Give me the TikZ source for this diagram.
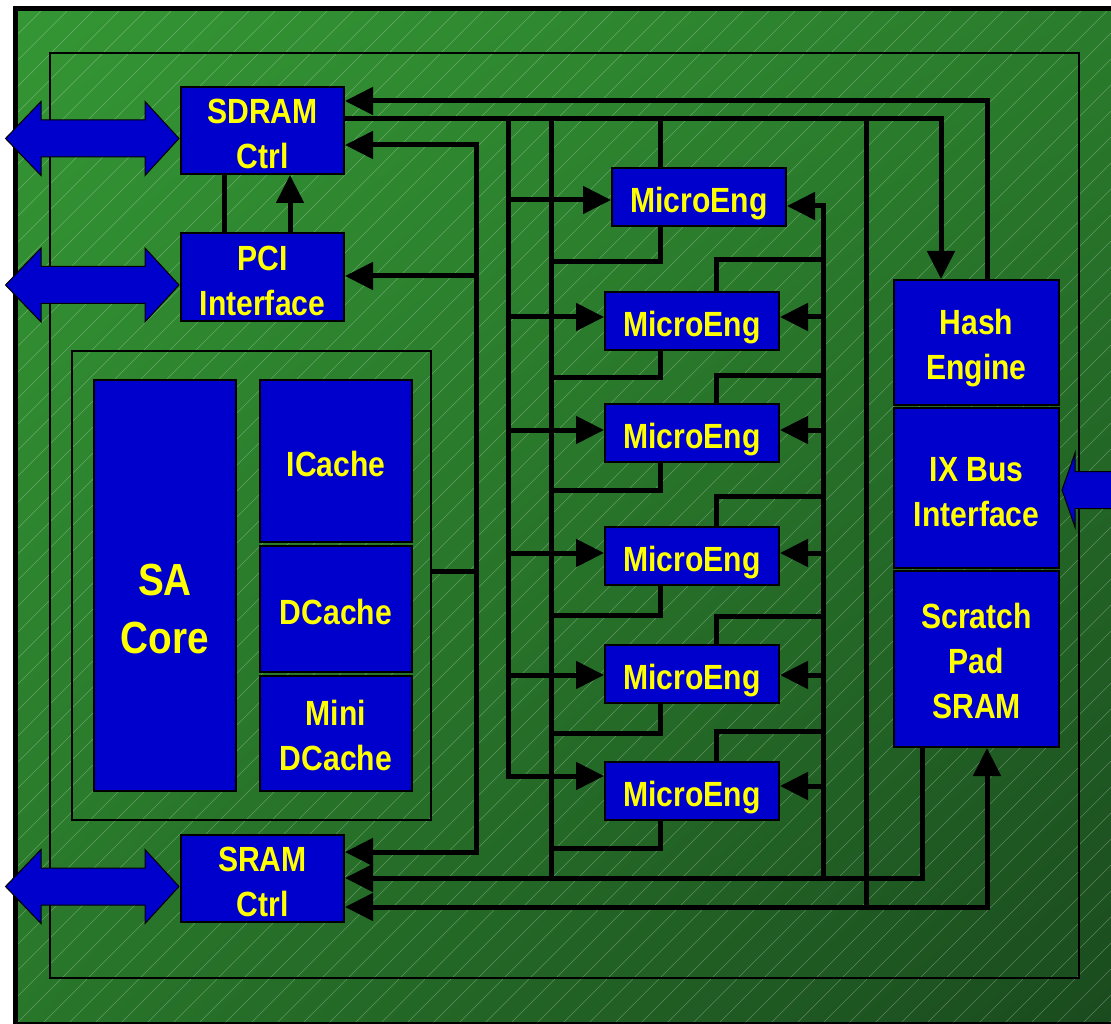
\documentclass[tikz,border=0pt]{standalone}
\usepackage{fontspec}
\setmainfont{Liberation Sans}[FakeStretch=0.86]
\usetikzlibrary{arrows.meta,calc,shadings}
\definecolor{chipblue}{RGB}{0,0,204}
\definecolor{lblyellow}{RGB}{255,255,0}
\definecolor{gUL}{RGB}{52,150,52}
\definecolor{gUR}{RGB}{42,124,44}
\definecolor{gLL}{RGB}{40,118,42}
\definecolor{gLR}{RGB}{26,74,30}
\newcommand\mystrut[1]{\rule{0pt}{#1}}
\begin{document}
\begin{tikzpicture}[x=1pt,y=-1pt,
  blk/.style={draw=black,line width=2pt,fill=chipblue,text=lblyellow,inner sep=0pt,
     font=\fontsize{35}{45}\selectfont\bfseries,align=center},
  onel/.style={blk,text height=31.5pt,text depth=0pt},
  me/.style={onel,minimum width=174pt,minimum height=58pt},
  ctl/.style={blk,minimum width=163pt},
  rcol/.style={blk,minimum width=165pt},
  bigtxt/.style={text=lblyellow,inner sep=0pt,font=\fontsize{45}{58}\selectfont\bfseries,align=center},
  bus/.style={line width=5pt,draw=black},
  arw/.style={-{Triangle[length=28pt,width=27pt]}},
  arwb/.style={{Triangle[length=28pt,width=27pt]}-{Triangle[length=28pt,width=27pt]}},
  ioarrow/.style={fill=chipblue,draw=black,line width=1pt,line join=miter},
  thinframe/.style={draw=black,line width=2pt}
]
\useasboundingbox (0,0) rectangle (1111,1024);
\clip (0,0) rectangle (1111,1024);
\fill[white] (0,0) rectangle (1111,1024);
% background board
\shade[upper left=gUL, upper right=gUR, lower left=gLL, lower right=gLR]
  (15.5,8.5) rectangle (1120,1030);
\begin{scope}
  \clip (18,11) rectangle (1111,1021);
  \foreach \i in {0,...,84} {
    \draw[white,opacity=0.27,line width=0.6pt] (\i*26-1030,1030) -- ++(1120,-1120);
  }
\end{scope}
\draw[line width=5pt] (15.5,8.5) rectangle (1130,1024);
% inner frame
\draw[thinframe] (50,53) rectangle (1079,978);

% blocks
\node[ctl,minimum height=87pt] (sdram) at (262.5,130.5) {\mystrut{32pt}SDRAM\\Ctrl};
\node[ctl,minimum height=88pt] (pci) at (262.5,277) {\mystrut{32pt}PCI\\Interface};
\node[ctl,minimum height=87pt] (sram) at (262.5,878.5) {\mystrut{32pt}SRAM\\Ctrl};

\node[thinframe,minimum width=359pt,minimum height=469pt,inner sep=0pt] (safr) at (251.5,585.5) {};
\node[blk,minimum width=142pt,minimum height=411pt] (sacore) at (165,585.5) {};
\node[bigtxt] (sacorelbl) at (165,609.5) {SA\\Core};
\node[onel,minimum width=152pt,minimum height=162pt] (icache) at (336,461) {ICache};
\node[onel,minimum width=152pt,minimum height=126pt] (dcache) at (336,609) {DCache};
\node[blk,minimum width=152pt,minimum height=115pt] (minidc) at (336,733.5) {\mystrut{30pt}Mini\\DCache};

\node[me] (me1) at (699,197) {MicroEng};
\node[me] (me2) at (692,321) {MicroEng};
\node[me] (me3) at (692,433) {MicroEng};
\node[me] (me4) at (692,556) {MicroEng};
\node[me] (me5) at (692,674) {MicroEng};
\node[me] (me6) at (692,791) {MicroEng};

\node[rcol,minimum height=125pt] (hash) at (976.5,342.5) {\mystrut{37pt}Hash\\Engine};
\node[rcol,minimum height=160pt] (ixbus) at (976.5,488) {\mystrut{32pt}IX Bus\\Interface};
\node[rcol,minimum height=176pt] (scratch) at (976.5,659) {\mystrut{30pt}Scratch\\Pad\\SRAM};

% external I/O arrows
\foreach \n in {sdram,pci,sram} {
  \draw[ioarrow] ($(\n.west)+(-1,8)$) -- ++(-34,-37) -- ++(0,18.5) -- ++(-104,0)
    -- ++(0,-18.5) -- ++(-35.5,37) -- ++(35.5,37) -- ++(0,-18.5) -- ++(104,0)
    -- ++(0,18.5) -- cycle;
}
\draw[ioarrow] ($(ixbus.east)+(2,2)$) -- ++(13,-37) -- ++(0,18.5) -- ++(60,0)
  -- ++(0,37) -- ++(-60,0) -- ++(0,18.5) -- cycle;

% named bus points
\coordinate (cA) at (987,101);
\coordinate (cB) at (941,119);
\coordinate (busLtop) at (508,119);
\coordinate (busLbot) at (508,776);
\coordinate (busMtop) at (551,119);
\coordinate (busMbot) at (551,878);
\coordinate (busRtop) at (823,206);
\coordinate (busRbot) at (823,878);
\coordinate (busStop) at (476,145);
\coordinate (busSbot) at (476,852);
\coordinate (busVtop) at (866,119);
\coordinate (busVbot) at (866,907);
\coordinate (rx) at (660,0);
\coordinate (tx) at (716,0);
\coordinate (sx1) at (922,878);
\coordinate (sx2) at (987,907);
\coordinate (px1) at (224,0);
\coordinate (px2) at (290,0);

% SDRAM <-> Hash
\draw[bus,arw] (hash.north -| cA) |- (sdram.east |- cA);
\draw[bus,arw] (sdram.east |- cB) -| (hash.north -| cB);
% PCI <-> SDRAM
\draw[bus] (pci.north -| px1) -- (sdram.south -| px1);
\draw[bus,arw] (pci.north -| px2) -- (sdram.south -| px2);

% left bus into micro engines
\draw[bus,arw] (busLtop) |- (me6.west |- busLbot);
\foreach \n/\y in {me1/200,me2/317,me3/430,me4/553,me5/675} {
  \draw[bus,arw] (busLtop |- 0,\y) -- (\n.west |- 0,\y);
}
% return bus
\draw[bus] (busMtop) -- (busMbot);
\draw[bus] (me1.north -| rx) -- (rx |- cB);
\foreach \n/\y in {me1/262,me2/377,me3/490,me4/615,me5/733,me6/848} {
  \draw[bus] (\n.south -| rx) |- (busMtop |- 0,\y);
}
% right bus into micro engines
\draw[bus,arw] (busRbot) |- (me1.east |- busRtop);
\foreach \n/\y in {me2/317,me3/430,me4/553,me5/675,me6/786} {
  \draw[bus,arw] (busRtop |- 0,\y) -- (\n.east |- 0,\y);
}
\foreach \n/\y in {me2/260,me3/375,me4/496,me5/616,me6/731} {
  \draw[bus] (\n.north -| tx) |- (busRtop |- 0,\y);
}
% core bus
\draw[bus,arwb] (sdram.east |- busStop) -| (busSbot) -- (sram.east |- busSbot);
\draw[bus,arw] (busStop |- 0,276) -- (pci.east |- 0,276);
\draw[bus] (safr.east |- 0,571) -- (busStop |- 0,571);
% long vertical
\draw[bus] (busVtop) -- (busVbot);
% scratch pad links
\draw[bus,arw] (scratch.south -| sx1) |- (sram.east |- sx1);
\draw[bus,arwb] (sram.east |- sx2) -| (scratch.south -| sx2);
\end{tikzpicture}
\end{document}
